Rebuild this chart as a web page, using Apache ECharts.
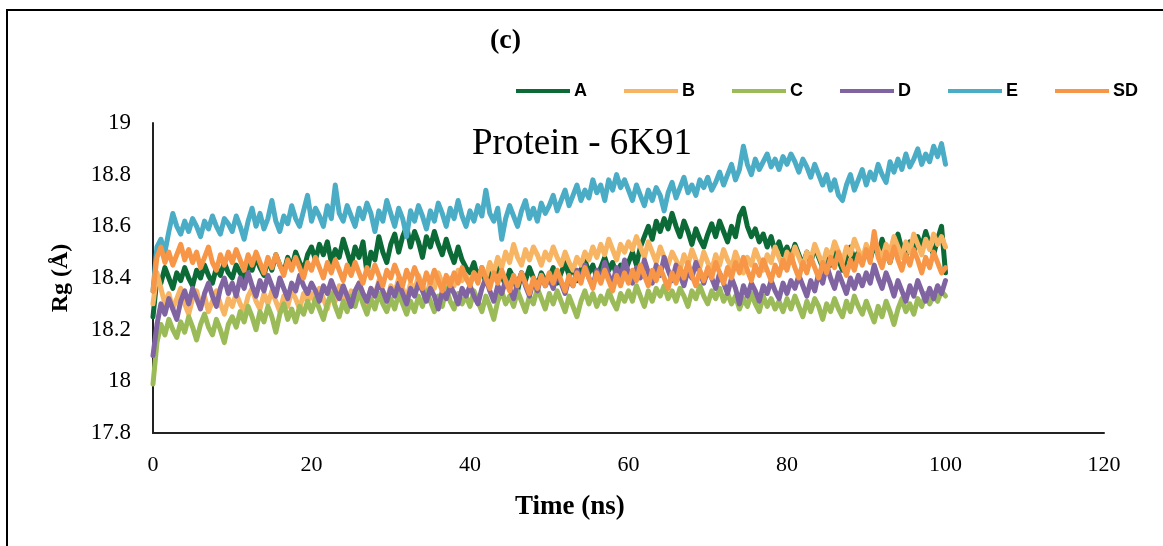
<!DOCTYPE html>
<html><head><meta charset="utf-8">
<script src="https://cdn.jsdelivr.net/npm/echarts@6/dist/echarts.min.js"></script>
<style>html,body{margin:0;padding:0;background:#fff}#c{width:1163px;height:546px}</style>
</head><body><div id="c"></div>
<script>
// time step between samples (ns)
const STEP = 0.5;
const seriesNames = ['A','B','C','D','E','SD'];
const xTicks = [0,20,40,60,80,100,120];
const yTicks = [17.8,18,18.2,18.4,18.6,18.8,19];

const A = [
18.25,18.40,18.38,18.44,18.40,18.36,18.42,18.39,18.44,18.40,18.37,18.43,18.40,18.45,18.41,18.38,18.44,18.41,18.46,18.42,
18.40,18.45,18.42,18.39,18.46,18.43,18.48,18.44,18.41,18.47,18.43,18.49,18.45,18.42,18.48,18.44,18.50,18.46,18.43,18.49,
18.52,18.47,18.53,18.49,18.54,18.46,18.51,18.48,18.55,18.50,18.45,18.52,18.48,18.54,18.42,18.50,18.47,18.56,18.50,18.46,
18.53,18.57,18.50,18.56,18.60,18.52,18.58,18.54,18.48,18.56,18.52,18.58,18.53,18.49,18.55,18.50,18.46,18.52,18.47,18.44,
18.42,18.46,18.40,18.44,18.38,18.43,18.40,18.45,18.41,18.37,18.43,18.40,18.35,18.42,18.39,18.44,18.40,18.37,18.42,18.39,
18.40,18.44,18.38,18.42,18.46,18.41,18.44,18.39,18.43,18.47,18.42,18.45,18.40,18.44,18.48,18.43,18.46,18.41,18.45,18.42,
18.46,18.50,18.45,18.52,18.56,18.60,18.55,18.62,18.58,18.63,18.59,18.65,18.60,18.56,18.62,18.58,18.53,18.59,18.55,18.52,
18.57,18.61,18.56,18.62,18.58,18.54,18.60,18.56,18.64,18.67,18.60,18.56,18.59,18.54,18.57,18.52,18.56,18.50,18.54,18.49,
18.52,18.48,18.53,18.49,18.45,18.50,18.46,18.52,18.48,18.44,18.49,18.45,18.51,18.47,18.43,18.48,18.52,18.47,18.50,18.46,
18.51,18.47,18.53,18.49,18.55,18.50,18.46,18.52,18.57,18.51,18.48,18.54,18.50,18.56,18.52,18.58,18.53,18.49,18.55,18.60,18.42];

const B = [
18.30,18.42,18.36,18.30,18.34,18.28,18.32,18.36,18.30,18.26,18.32,18.35,18.29,18.33,18.27,18.31,18.35,18.30,18.26,18.32,
18.29,18.34,18.30,18.27,18.33,18.36,18.31,18.28,18.34,18.30,18.35,18.31,18.27,18.33,18.29,18.35,18.32,18.28,18.34,18.31,
18.34,18.30,18.36,18.32,18.28,18.35,18.31,18.37,18.33,18.29,18.35,18.32,18.38,18.34,18.30,18.36,18.33,18.39,18.35,18.31,
18.37,18.34,18.40,18.36,18.32,18.38,18.35,18.41,18.37,18.33,18.39,18.36,18.42,18.38,18.34,18.40,18.37,18.43,18.39,18.41,
18.38,18.42,18.39,18.44,18.40,18.46,18.42,18.48,18.44,18.50,18.46,18.53,18.48,18.45,18.51,18.47,18.52,18.49,18.45,18.50,
18.47,18.52,18.48,18.45,18.50,18.46,18.43,18.48,18.45,18.50,18.47,18.52,18.48,18.53,18.49,18.55,18.51,18.47,18.53,18.50,
18.54,18.51,18.56,18.52,18.48,18.54,18.50,18.46,18.52,18.48,18.45,18.50,18.47,18.43,18.49,18.45,18.51,18.47,18.44,18.50,
18.46,18.43,18.49,18.45,18.51,18.47,18.44,18.50,18.46,18.42,18.48,18.45,18.51,18.47,18.43,18.49,18.46,18.52,18.48,18.44,
18.50,18.46,18.52,18.48,18.44,18.50,18.47,18.53,18.49,18.45,18.51,18.48,18.54,18.50,18.46,18.52,18.49,18.55,18.51,18.47,
18.53,18.49,18.55,18.51,18.47,18.53,18.50,18.56,18.52,18.48,18.54,18.50,18.57,18.53,18.49,18.55,18.51,18.57,18.53,18.56,18.52];

const C = [
17.99,18.15,18.22,18.18,18.24,18.20,18.17,18.23,18.19,18.25,18.21,18.16,18.22,18.26,18.21,18.18,18.24,18.20,18.15,18.22,
18.25,18.21,18.27,18.23,18.29,18.25,18.20,18.27,18.23,18.29,18.25,18.19,18.26,18.30,18.24,18.28,18.23,18.29,18.26,18.31,
18.27,18.32,18.28,18.24,18.30,18.34,18.29,18.25,18.31,18.27,18.33,18.29,18.35,18.30,18.26,18.32,18.28,18.34,18.30,18.27,
18.32,18.28,18.34,18.30,18.26,18.31,18.27,18.33,18.29,18.35,18.31,18.27,18.33,18.29,18.36,18.31,18.28,18.34,18.30,18.33,
18.29,18.35,18.31,18.27,18.33,18.29,18.24,18.31,18.35,18.30,18.33,18.29,18.35,18.31,18.27,18.33,18.30,18.36,18.32,18.28,
18.34,18.30,18.35,18.31,18.27,18.33,18.29,18.25,18.31,18.35,18.30,18.34,18.29,18.33,18.30,18.35,18.31,18.28,18.34,18.31,
18.35,18.31,18.37,18.33,18.29,18.35,18.31,18.36,18.33,18.37,18.32,18.35,18.31,18.36,18.33,18.29,18.35,18.32,18.37,18.33,
18.30,18.35,18.32,18.36,18.31,18.34,18.30,18.33,18.28,18.32,18.29,18.34,18.30,18.27,18.33,18.29,18.32,18.28,18.31,18.27,
18.32,18.28,18.33,18.29,18.25,18.31,18.27,18.32,18.29,18.24,18.30,18.27,18.32,18.28,18.25,18.31,18.27,18.33,18.29,18.26,
18.31,18.27,18.23,18.29,18.25,18.31,18.27,18.22,18.28,18.32,18.27,18.30,18.26,18.32,18.29,18.34,18.30,18.33,18.31,18.35,18.33];

const D = [
18.10,18.22,18.30,18.26,18.32,18.28,18.24,18.31,18.35,18.30,18.36,18.32,18.28,18.34,18.38,18.33,18.29,18.36,18.40,18.34,
18.38,18.33,18.40,18.36,18.42,18.37,18.33,18.39,18.35,18.41,18.37,18.33,18.40,18.36,18.32,18.38,18.35,18.41,18.37,18.34,
18.38,18.35,18.31,18.37,18.34,18.39,18.35,18.32,18.37,18.33,18.29,18.35,18.38,18.34,18.31,18.36,18.33,18.38,18.35,18.31,
18.36,18.33,18.38,18.34,18.30,18.36,18.33,18.38,18.35,18.31,18.36,18.33,18.28,18.35,18.32,18.37,18.34,18.30,18.36,18.33,
18.37,18.33,18.30,18.36,18.40,18.35,18.31,18.37,18.34,18.39,18.36,18.32,18.38,18.42,18.37,18.33,18.39,18.35,18.41,18.37,
18.40,18.36,18.42,18.38,18.34,18.40,18.37,18.43,18.39,18.45,18.40,18.37,18.43,18.39,18.46,18.41,18.38,18.44,18.40,18.47,
18.42,18.38,18.44,18.40,18.47,18.42,18.38,18.45,18.41,18.48,18.43,18.39,18.45,18.41,18.37,18.43,18.40,18.46,18.42,18.38,
18.43,18.40,18.36,18.42,18.38,18.34,18.40,18.36,18.30,18.37,18.33,18.38,18.35,18.31,18.37,18.34,18.39,18.35,18.32,18.38,
18.34,18.39,18.36,18.41,18.37,18.33,18.39,18.35,18.42,18.38,18.45,18.40,18.36,18.42,18.38,18.34,18.40,18.36,18.41,18.37,
18.42,18.38,18.45,18.40,18.36,18.42,18.38,18.33,18.39,18.35,18.31,18.37,18.33,18.39,18.35,18.31,18.36,18.32,18.37,18.34,18.39];

const E = [
18.35,18.52,18.55,18.50,18.58,18.65,18.60,18.57,18.62,18.58,18.63,18.60,18.56,18.62,18.59,18.64,18.60,18.57,18.63,18.61,
18.58,18.64,18.60,18.55,18.62,18.67,18.60,18.65,18.59,18.63,18.70,18.62,18.58,18.64,18.61,18.68,18.63,18.60,18.66,18.72,
18.62,18.67,18.64,18.60,18.68,18.63,18.76,18.65,18.62,18.68,18.64,18.60,18.67,18.63,18.69,18.65,18.58,18.66,18.62,18.70,
18.65,18.60,18.67,18.63,18.56,18.66,18.62,18.68,18.64,18.59,18.66,18.62,18.69,18.65,18.60,18.67,18.63,18.70,18.64,18.60,
18.66,18.62,18.68,18.64,18.74,18.65,18.62,18.67,18.55,18.63,18.68,18.64,18.60,18.66,18.70,18.63,18.67,18.62,18.69,18.65,
18.68,18.72,18.66,18.70,18.74,18.68,18.72,18.76,18.70,18.74,18.71,18.78,18.73,18.76,18.70,18.78,18.74,18.80,18.75,18.78,
18.74,18.70,18.76,18.72,18.68,18.74,18.70,18.75,18.72,18.66,18.73,18.77,18.71,18.75,18.79,18.73,18.76,18.72,18.78,18.75,
18.79,18.74,18.77,18.81,18.76,18.80,18.84,18.78,18.82,18.91,18.84,18.80,18.86,18.82,18.85,18.88,18.83,18.86,18.82,18.87,
18.84,18.88,18.85,18.81,18.86,18.83,18.79,18.84,18.80,18.76,18.80,18.74,18.78,18.72,18.70,18.76,18.80,18.74,18.78,18.82,
18.76,18.81,18.78,18.84,18.80,18.77,18.85,18.81,18.86,18.82,18.88,18.83,18.86,18.90,18.84,18.88,18.85,18.91,18.87,18.92,18.84];

const SD = [
18.35,18.48,18.52,18.46,18.50,18.45,18.49,18.53,18.47,18.51,18.46,18.50,18.44,18.48,18.52,18.46,18.43,18.49,18.45,18.50,
18.46,18.51,18.47,18.43,18.49,18.45,18.50,18.46,18.42,18.48,18.44,18.49,18.45,18.41,18.47,18.43,18.48,18.44,18.40,18.46,
18.43,18.48,18.44,18.40,18.46,18.42,18.47,18.43,18.39,18.45,18.41,18.46,18.42,18.38,18.44,18.40,18.45,18.41,18.37,18.43,
18.40,18.45,18.41,18.37,18.43,18.39,18.44,18.40,18.36,18.42,18.38,18.43,18.39,18.35,18.41,18.37,18.42,18.38,18.44,18.40,
18.37,18.42,18.38,18.44,18.40,18.36,18.42,18.38,18.43,18.39,18.35,18.41,18.37,18.42,18.38,18.34,18.40,18.36,18.41,18.37,
18.42,18.38,18.43,18.39,18.35,18.41,18.37,18.42,18.38,18.44,18.40,18.36,18.42,18.38,18.43,18.39,18.35,18.41,18.37,18.42,
18.38,18.43,18.39,18.45,18.41,18.37,18.43,18.39,18.44,18.40,18.36,18.42,18.38,18.44,18.40,18.46,18.41,18.37,18.43,18.39,
18.44,18.40,18.46,18.42,18.38,18.44,18.40,18.46,18.42,18.48,18.43,18.39,18.45,18.41,18.47,18.43,18.39,18.45,18.41,18.47,
18.43,18.49,18.44,18.40,18.46,18.42,18.48,18.44,18.40,18.46,18.42,18.48,18.44,18.50,18.45,18.41,18.47,18.43,18.49,18.45,
18.51,18.46,18.58,18.48,18.44,18.50,18.46,18.52,18.47,18.43,18.49,18.45,18.51,18.47,18.42,18.48,18.44,18.50,18.46,18.42,18.44];

const colors = ['#0B6A36','#F7B463','#9BBB59','#8064A2','#4BACC6','#F79646'];
const allData = [A,B,C,D,E,SD];

function toPairs(arr){ return arr.map((v,i)=>[i*STEP, v]); }

const chart = echarts.init(document.getElementById('c'), null, {renderer:'canvas'});
const serif = 'Liberation Serif, Times New Roman, serif';
chart.setOption({
  animation:false,
  backgroundColor:'#fff',
  color: colors,
  grid:{left:153,right:59,top:123,bottom:113,containLabel:false},
  legend:{
    data: seriesNames,
    left:511, top:77,
    icon:'rect', itemWidth:54, itemHeight:4, itemGap:37,
    textStyle:{fontFamily:'Liberation Sans Narrow, Liberation Sans, sans-serif',fontWeight:'bold',fontSize:18,color:'#000',padding:[0,0,0,-1]}
  },
  xAxis:{
    type:'value', min:0, max:120, interval:20,
    axisLine:{lineStyle:{color:'#222',width:2}},
    axisTick:{show:false},
    splitLine:{show:false},
    axisLabel:{fontFamily:serif,fontSize:22,color:'#000',margin:21}
  },
  yAxis:{
    type:'value', min:17.8, max:19, interval:0.2,
    name:'Rg (Å)', nameLocation:'middle', nameGap:80,
    nameTextStyle:{fontFamily:serif,fontWeight:'bold',fontSize:24,color:'#000'},
    axisLine:{show:true,lineStyle:{color:'#222',width:2}},
    axisTick:{show:false},
    splitLine:{show:false},
    axisLabel:{fontFamily:serif,fontSize:23,color:'#000',margin:22,
      formatter:function(v){ return String(Math.round(v*10)/10); }}
  },
  series: seriesNames.map((n,k)=>({
    name:n, type:'line', data:toPairs(allData[k]),
    showSymbol:false, symbol:'none',
    lineStyle:{width:5,color:colors[k],join:'round',cap:'round'},
    itemStyle:{color:colors[k]},
    z: 2+k
  })),
  graphic:[
    {type:'rect', shape:{x:7,y:10,width:1200,height:600}, style:{fill:'none',stroke:'#000',lineWidth:2}, silent:true},
    {type:'text', left:490, top:27, style:{text:'(c)', font:'bold 28px '+serif, fill:'#000'}},
    {type:'text', left:472, top:126, style:{text:'Protein - 6K91', font:'37px '+serif, fill:'#000'}},
    {type:'text', left:515, top:494, style:{text:'Time (ns)', font:'bold 27px '+serif, fill:'#000'}}
  ]
});
</script></body></html>
